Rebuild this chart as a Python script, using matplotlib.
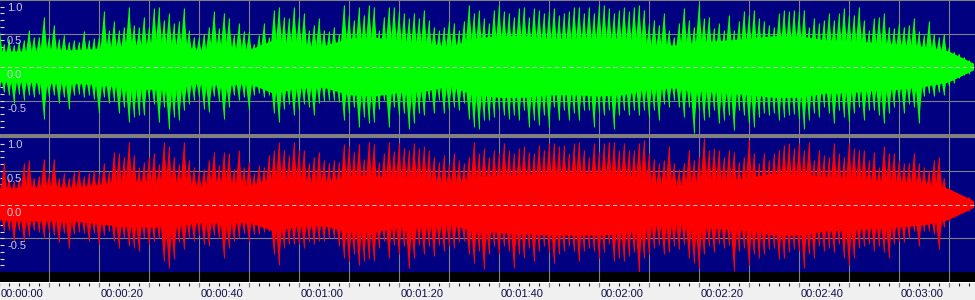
import matplotlib
matplotlib.use("Agg")
import matplotlib.pyplot as plt
from matplotlib.patches import Rectangle
from matplotlib.collections import PolyCollection
import numpy as np

# peak level of each second of audio (0 s .. 194 s)
leftTop = [
    0.68, 0.35, 0.42, 0.33, 0.38, 0.40, 0.55, 0.45, 0.45, 0.75,
    0.45, 0.63, 0.42, 0.48, 0.38, 0.40, 0.38, 0.53, 0.40, 0.43,
    0.45, 0.83, 0.55, 0.68, 0.55, 0.60, 0.90, 0.63, 0.60, 0.75,
    0.60, 0.88, 0.90, 0.70, 0.80, 0.65, 0.68, 0.88, 0.55, 0.45,
    0.45, 0.50, 0.60, 0.83, 0.58, 0.80, 0.73, 0.48, 0.65, 0.53,
    0.53, 0.35, 0.48, 0.65, 0.45, 0.85, 0.90, 0.75, 0.73, 0.90,
    0.75, 0.80, 0.55, 0.63, 0.73, 0.55, 0.53, 0.60, 0.50, 0.93,
    0.78, 0.70, 0.90, 0.78, 0.93, 0.90, 0.55, 0.75, 0.90, 0.90,
    0.83, 0.80, 0.73, 0.80, 0.73, 0.85, 0.70, 0.60, 0.55, 0.60,
    0.68, 0.65, 0.55, 0.68, 0.93, 0.80, 0.85, 0.73, 0.65, 0.85,
    0.93, 0.83, 0.80, 0.75, 0.88, 0.90, 0.75, 0.88, 0.85, 0.80,
    0.83, 0.88, 0.78, 0.80, 0.83, 0.90, 0.90, 0.80, 0.90, 0.80,
    0.93, 0.93, 0.88, 0.80, 0.85, 0.90, 0.83, 0.90, 0.93, 0.85,
    0.65, 0.70, 0.63, 0.80, 0.55, 0.45, 0.65, 0.88, 0.70, 0.60,
    0.95, 0.73, 0.75, 0.58, 0.65, 0.55, 0.78, 0.55, 0.68, 0.83,
    0.78, 0.85, 0.73, 0.68, 0.63, 0.60, 0.80, 0.85, 0.83, 0.85,
    0.83, 0.85, 0.60, 0.73, 0.65, 0.70, 0.80, 0.70, 0.80, 0.88,
    0.78, 0.78, 0.90, 0.70, 0.55, 0.73, 0.75, 0.80, 0.60, 0.58,
    0.65, 0.60, 0.63, 0.73, 0.53, 0.48, 0.68, 0.50, 0.45, 0.50,
    0.30, 0.23, 0.20, 0.15, 0.10,
]
leftBottom = [
    0.40, 0.38, 0.42, 0.54, 0.40, 0.49, 0.42, 0.45, 0.40, 0.77,
    0.45, 0.42, 0.54, 0.45, 0.62, 0.42, 0.40, 0.45, 0.42, 0.48,
    0.69, 0.45, 0.54, 0.50, 0.69, 0.60, 0.82, 0.74, 0.72, 0.72,
    0.49, 0.55, 0.82, 0.59, 0.92, 0.74, 0.79, 0.64, 0.55, 0.49,
    0.45, 0.62, 0.67, 0.44, 0.50, 0.77, 0.59, 0.42, 0.49, 0.45,
    0.64, 0.42, 0.39, 0.45, 0.42, 0.69, 0.82, 0.62, 0.55, 0.72,
    0.64, 0.55, 0.59, 0.72, 0.54, 0.50, 0.49, 0.49, 0.52, 0.79,
    0.69, 0.60, 0.89, 0.74, 0.84, 0.82, 0.62, 0.49, 0.89, 0.60,
    0.72, 0.69, 0.92, 0.84, 0.69, 0.72, 0.49, 0.69, 0.49, 0.69,
    0.64, 0.59, 0.64, 0.54, 0.77, 0.89, 0.92, 0.79, 0.79, 0.74,
    0.64, 0.72, 0.77, 0.72, 0.79, 0.64, 0.89, 0.79, 0.87, 0.72,
    0.89, 0.60, 0.79, 0.64, 0.79, 0.69, 0.79, 0.64, 0.64, 0.89,
    0.67, 0.72, 0.64, 0.92, 0.72, 0.64, 0.72, 0.64, 0.72, 0.64,
    0.74, 0.64, 0.79, 0.55, 0.59, 0.49, 0.60, 0.74, 0.59, 0.99,
    0.64, 0.79, 0.74, 0.64, 0.84, 0.79, 0.72, 0.94, 0.64, 0.72,
    0.84, 0.89, 0.74, 0.69, 0.72, 0.69, 0.79, 0.74, 0.72, 0.70,
    0.77, 0.92, 0.79, 0.69, 0.74, 0.59, 0.69, 0.84, 0.64, 0.74,
    0.82, 0.69, 0.59, 0.79, 0.64, 0.64, 0.72, 0.84, 0.69, 0.59,
    0.52, 0.69, 0.55, 0.59, 0.84, 0.44, 0.39, 0.44, 0.38, 0.42,
    0.29, 0.24, 0.17, 0.12, 0.10,
]
rightTop = [
    0.35, 0.61, 0.40, 0.35, 0.38, 0.61, 0.66, 0.40, 0.42, 0.68,
    0.46, 0.68, 0.40, 0.46, 0.40, 0.48, 0.51, 0.42, 0.46, 0.51,
    0.45, 0.61, 0.50, 0.78, 0.76, 0.71, 0.93, 0.73, 0.55, 0.63,
    0.71, 0.76, 0.60, 0.93, 0.86, 0.71, 0.60, 0.93, 0.66, 0.55,
    0.50, 0.53, 0.66, 0.78, 0.58, 0.78, 0.76, 0.53, 0.81, 0.56,
    0.63, 0.46, 0.58, 0.56, 0.73, 0.81, 0.93, 0.81, 0.73, 0.93,
    0.81, 0.81, 0.61, 0.71, 0.78, 0.66, 0.61, 0.66, 0.63, 0.90,
    0.86, 0.78, 0.90, 0.68, 0.93, 0.90, 0.63, 0.76, 0.93, 0.80,
    0.91, 0.83, 0.81, 0.91, 0.83, 0.86, 0.81, 0.71, 0.63, 0.73,
    0.60, 0.76, 0.66, 0.61, 0.71, 0.93, 0.76, 0.83, 0.71, 0.81,
    0.76, 0.91, 0.81, 0.76, 0.83, 0.86, 0.78, 0.76, 0.88, 0.81,
    0.91, 0.91, 0.86, 0.88, 0.76, 0.91, 0.93, 0.81, 0.71, 0.91,
    0.78, 0.91, 0.93, 0.93, 0.81, 0.91, 0.81, 0.81, 0.91, 0.96,
    0.76, 0.68, 0.61, 0.66, 0.86, 0.61, 0.53, 0.61, 0.81, 0.66,
    0.71, 0.98, 0.81, 0.83, 0.81, 0.71, 0.81, 0.78, 0.63, 0.71,
    0.96, 0.76, 0.61, 0.76, 0.66, 0.76, 0.81, 0.88, 0.91, 0.83,
    0.91, 0.81, 0.93, 0.66, 0.81, 0.73, 0.71, 0.91, 0.76, 0.70,
    0.91, 0.83, 0.81, 0.81, 0.66, 0.78, 0.56, 0.86, 0.76, 0.76,
    0.66, 0.61, 0.61, 0.76, 0.61, 0.56, 0.51, 0.66, 0.71, 0.40,
    0.25, 0.18, 0.16, 0.13, 0.11,
]
rightBottom = [
    0.35, 0.39, 0.38, 0.54, 0.38, 0.54, 0.46, 0.38, 0.40, 0.49,
    0.40, 0.45, 0.56, 0.42, 0.64, 0.44, 0.40, 0.42, 0.54, 0.42,
    0.59, 0.45, 0.39, 0.54, 0.64, 0.50, 0.61, 0.64, 0.69, 0.50,
    0.59, 0.54, 0.50, 0.84, 0.94, 0.81, 0.55, 0.66, 0.49, 0.54,
    0.45, 0.59, 0.61, 0.45, 0.49, 0.79, 0.64, 0.54, 0.49, 0.42,
    0.54, 0.44, 0.44, 0.40, 0.39, 0.74, 0.89, 0.64, 0.59, 0.59,
    0.59, 0.64, 0.55, 0.59, 0.54, 0.54, 0.49, 0.50, 0.61, 0.79,
    0.84, 0.74, 0.89, 0.84, 0.81, 0.84, 0.64, 0.54, 0.79, 0.60,
    0.74, 0.62, 0.94, 0.79, 0.60, 0.74, 0.61, 0.76, 0.60, 0.69,
    0.61, 0.64, 0.55, 0.54, 0.74, 0.86, 0.69, 0.96, 0.74, 0.61,
    0.74, 0.62, 0.69, 0.94, 0.74, 0.79, 0.65, 0.84, 0.69, 0.61,
    0.70, 0.86, 0.74, 0.69, 0.62, 0.69, 0.84, 0.69, 0.65, 0.69,
    0.79, 0.71, 0.59, 0.84, 0.79, 0.84, 0.76, 0.71, 1.00, 0.79,
    0.74, 0.64, 0.60, 0.74, 0.71, 0.61, 0.66, 0.59, 0.79, 0.86,
    0.94, 0.74, 0.61, 0.71, 0.59, 0.64, 0.60, 0.98, 0.69, 0.64,
    0.89, 0.74, 0.79, 0.74, 0.66, 0.64, 0.81, 0.79, 0.70, 0.66,
    0.69, 0.94, 0.74, 0.79, 0.61, 0.69, 0.64, 0.71, 0.59, 0.79,
    0.89, 0.79, 0.64, 0.61, 0.59, 0.69, 0.61, 0.71, 0.79, 0.59,
    0.54, 0.56, 0.49, 0.39, 0.61, 0.39, 0.39, 0.44, 0.66, 0.34,
    0.24, 0.19, 0.14, 0.11, 0.09,
]

# level of the solid core of each channel, every 5 s (0 s .. 195 s)
leftBody = [
    0.23, 0.23, 0.25, 0.25, 0.27, 0.32, 0.34, 0.34, 0.25, 0.29,
    0.25, 0.40, 0.32, 0.31, 0.42, 0.44, 0.39, 0.37, 0.29, 0.42,
    0.46, 0.46, 0.42, 0.42, 0.44, 0.42, 0.34, 0.32, 0.37, 0.39,
    0.42, 0.46, 0.46, 0.40, 0.39, 0.36, 0.34, 0.30, 0.23, 0.05,
]
rightBody = [
    0.23, 0.25, 0.25, 0.25, 0.29, 0.34, 0.34, 0.34, 0.27, 0.28,
    0.27, 0.40, 0.33, 0.32, 0.42, 0.42, 0.34, 0.33, 0.29, 0.40,
    0.42, 0.44, 0.46, 0.46, 0.46, 0.44, 0.32, 0.27, 0.34, 0.37,
    0.39, 0.46, 0.46, 0.40, 0.39, 0.36, 0.34, 0.31, 0.23, 0.05,
]

levelLabels = ["1.0", "0.5", "0.0", "-0.5"]
levelValues = [1.0, 0.5, 0.0, -0.5]
timeLabels = ["00:00:00", "00:00:20", "00:00:40", "00:01:00", "00:01:20",
              "00:01:40", "00:02:00", "00:02:20", "00:02:40", "00:03:00"]

NAVY = "#000080"
GRID = "#808080"
W, H = 975, 300
XMIN, XMAX = 0.2, 195.2   # one pixel is 0.2 s
TOOTH = 1.0               # half width of a spike's base, in seconds

plt.rcParams["font.family"] = ["Liberation Sans", "DejaVu Sans"]

seconds = np.arange(len(leftTop))
bodyTimes = np.arange(len(leftBody)) * 5
gridTimes = np.arange(10, 200, 10)


def teeth(peaks, sign):
    # one narrow pointed triangle per second, from the centre line to the peak
    return [[(t - TOOTH, 0.0), (t, sign * p), (t + TOOTH, 0.0)]
            for t, p in zip(seconds, peaks)]


def drawChannel(ax, top, bottom, body, color):
    ax.set_facecolor(NAVY)
    ax.set_xlim(XMIN, XMAX)
    ax.set_ylim(-1.0, 1.0)
    for s in ax.spines.values():
        s.set_visible(False)
    for t in gridTimes:
        ax.axvline(t, color=GRID, lw=0.8, zorder=1)
    for v in (-0.5, 0.5, 1.0):
        ax.axhline(v, color=GRID, lw=0.8, zorder=1)
    body = np.array(body)
    ax.fill_between(bodyTimes, -body, body, color=color, lw=0, zorder=2)
    ax.add_collection(PolyCollection(teeth(top, 1) + teeth(bottom, -1),
                                     facecolors=color, edgecolors="none",
                                     zorder=3))
    ax.vlines(seconds, -np.array(bottom), top, color=color, lw=0.75, zorder=3)
    ax.axhline(0.0, color="#c8c8c8", lw=0.75, ls=(0, (4, 3)), zorder=4)
    ax.set_xticks([])
    ax.set_yticks(np.round(np.arange(-0.9, 0.95, 0.1), 1))
    ax.tick_params(axis="y", direction="in", length=3, width=0.8,
                   color="#e0e0e0", labelleft=False)
    for lab, v in zip(levelLabels, levelValues):
        ax.annotate(lab, xy=(7 / W, v), xycoords=("axes fraction", "data"),
                    xytext=(0, -11), textcoords="offset pixels",
                    ha="left", va="baseline", fontsize=8, color="#c8c8dc",
                    zorder=5)


fig = plt.figure(figsize=(W / 100, H / 100), dpi=100)
fig.patch.set_facecolor("#f0f0f0")

topAx = fig.add_axes([0, 1 - 134 / H, 1, 134 / H])
drawChannel(topAx, leftTop, leftBottom, leftBody, "#00ff00")

# grey bar between the two channels
fig.add_artist(Rectangle((0, 1 - 137 / H), 1, 3 / H, transform=fig.transFigure,
                         facecolor=GRID, edgecolor="none"))

botAx = fig.add_axes([0, 1 - 272 / H, 1, 135 / H])
drawChannel(botAx, rightTop, rightBottom, rightBody, "#ff0000")

# black strip under the waveform
band = fig.add_axes([0, 1 - 282 / H, 1, 10 / H])
band.set_xlim(XMIN, XMAX)
band.set_ylim(0, 1)
band.axis("off")
band.add_patch(Rectangle((0, 0), 1, 1, transform=band.transAxes,
                         facecolor="black", edgecolor="none"))
for t in gridTimes:
    band.axvline(t, color=GRID, lw=0.8)

# time ruler
ruler = fig.add_axes([0, 0, 1, 18 / H])
ruler.set_xlim(XMIN, XMAX)
ruler.set_ylim(0, 18)
ruler.axis("off")
ruler.axhline(17.6, color="white", lw=0.8)
ruler.vlines(np.arange(0, 196, 2), 14, 17.5, color="#202020", lw=0.8)
ruler.vlines(np.arange(0, 196, 10), 13, 17.5, color=GRID, lw=0.8)
for i, lab in enumerate(timeLabels):
    ruler.text(i * 20 + 0.3, 3.2, lab, ha="left", va="baseline",
               fontsize=8, color="#10104a")

fig.savefig("out.png", dpi=100, facecolor=fig.get_facecolor())
